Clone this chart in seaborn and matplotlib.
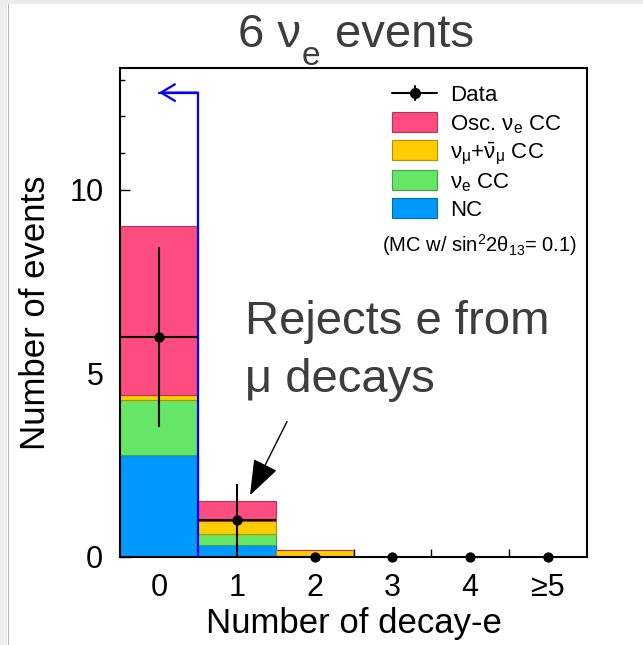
import numpy as np
import pandas as pd
import matplotlib
matplotlib.use("Agg")
import matplotlib.pyplot as plt
import matplotlib.colors as mcolors
from matplotlib.patches import Rectangle
from matplotlib.ticker import MultipleLocator, FixedLocator
import seaborn as sns

# Decay-electron multiplicity bins
n_decay = [0, 1, 2, 3, 4, 5]
tick_labels = ["0", "1", "2", "3", "4", "≥5"]

# Expected events per MC component (stacked)
nc_events = [2.78, 0.33, 0.01, 0.0, 0.0, 0.0]
nue_cc_events = [1.50, 0.30, 0.02, 0.0, 0.0, 0.0]
numu_cc_events = [0.12, 0.36, 0.16, 0.0, 0.0, 0.0]
osc_nue_events = [4.62, 0.54, 0.01, 0.0, 0.0, 0.0]

# Observed events
data_counts = [6, 1, 0, 0, 0, 0]

# Selection cut (keep events left of the line)
cut_edge = 0.5
cut_arrow_y = 12.65

components = ["Osc. ν$_\\mathrm{e}$ CC",
              "ν$_\\mathrm{\\mu}$+$\\bar{\\mathrm{\\nu}}_\\mathrm{\\mu}$ CC",
              "ν$_\\mathrm{e}$ CC",
              "NC"]
component_values = [osc_nue_events, numu_cc_events, nue_cc_events, nc_events]
component_colors = ["#FF4C80", "#FFCC00", "#66E666", "#0099FF"]

rows = []
for name, vals in zip(components, component_values):
    for b, v in zip(n_decay, vals):
        rows.append({"n_decay": b, "events": v, "component": name})
mc = pd.DataFrame(rows)

sns.set_theme(style="ticks")
plt.rcParams["font.family"] = ["Liberation Sans", "DejaVu Sans"]
plt.rcParams["mathtext.fontset"] = "custom"
plt.rcParams["mathtext.rm"] = "Liberation Sans"
plt.rcParams["mathtext.it"] = "Liberation Sans:italic"
plt.rcParams["mathtext.bf"] = "Liberation Sans:bold"

W, H = 643, 645
fig, ax = plt.subplots(figsize=(W / 100, H / 100), dpi=100)
fig.patch.set_facecolor("white")
L, R, B, T = 120, 587, 557, 68
fig.subplots_adjust(left=L / W, right=R / W, bottom=1 - B / H, top=1 - T / H)


def darker(c, f=0.7):
    r, g, b = mcolors.to_rgb(c)
    return (r * f, g * f, b * f)


sns.histplot(data=mc, x="n_decay", weights="events", hue="component",
             hue_order=components, palette=dict(zip(components, component_colors)),
             multiple="stack", discrete=True, shrink=1, alpha=1,
             linewidth=0.8, legend=False, ax=ax, zorder=1)
for p in ax.patches:
    p.set_edgecolor(darker(p.get_facecolor()))

# Cut line with arrow pointing towards the selected bin
blue = "#0000FF"
ax.plot([cut_edge, cut_edge, 0.0], [0, cut_arrow_y, cut_arrow_y],
        color=blue, lw=1.6, zorder=3, solid_joinstyle="miter")
ax.annotate("", xy=(0.0, cut_arrow_y), xytext=(cut_edge, cut_arrow_y),
            arrowprops=dict(arrowstyle="->,head_length=0.5,head_width=0.3",
                            mutation_scale=20, color=blue, lw=1.6,
                            shrinkA=0, shrinkB=0), zorder=3)

# Data with Poisson errors
counts = np.array(data_counts, dtype=float)
has = counts > 0
ax.errorbar(np.array(n_decay)[has], counts[has], yerr=np.sqrt(counts[has]),
            xerr=0.5, fmt="none", ecolor="black", elinewidth=1.5, capsize=0,
            zorder=4)
sns.scatterplot(x=n_decay, y=data_counts, color="black", s=55, linewidth=0,
                ax=ax, zorder=5, clip_on=False)

ax.set_xlim(-0.5, 5.5)
ax.set_ylim(0, 13.32)

# Axis styling
for s in ax.spines.values():
    s.set_visible(True)
    s.set_color("black")
    s.set_linewidth(1.5)
ax.set_xticks(n_decay, tick_labels)
ax.xaxis.set_minor_locator(FixedLocator([0.5, 1.5, 2.5, 3.5, 4.5]))
ax.tick_params(axis="x", which="major", length=0, pad=11.5, labelsize=22,
               labelcolor="black")
ax.tick_params(axis="x", which="minor", direction="in", length=6, width=1,
               color="black")
ax.yaxis.set_major_locator(FixedLocator([0, 5, 10]))
ax.yaxis.set_minor_locator(MultipleLocator(1))
ax.tick_params(axis="y", which="major", direction="in", length=7, width=1,
               pad=12, labelsize=22, color="black", labelcolor="black")
ax.tick_params(axis="y", which="minor", direction="in", length=3.6, width=1,
               color="black")
ax.tick_params(top=False, right=False, which="both")

ax.set_xlabel("Number of decay-e", fontsize=25, color="black")
ax.set_ylabel("Number of events", fontsize=25, color="black")
ax.xaxis.set_label_coords(0.5, -0.102)
ax.yaxis.set_label_coords(-0.146, 0.5)


def axx(px):
    return (px - L) / (R - L)


def axy(py):
    return (B - py) / (B - T)


# Legend
hx0, hx1, tx = 392, 437, 450
row_y = [93, 122, 150, 180, 208]
ax.plot([axx(hx0), axx(hx1)], [axy(row_y[0])] * 2, transform=ax.transAxes,
        color="black", lw=1.5, clip_on=False)
ax.plot([axx((hx0 + hx1) / 2)] * 2, [axy(row_y[0] - 7), axy(row_y[0] + 7)],
        transform=ax.transAxes, color="black", lw=1.5, clip_on=False)
ax.plot([axx((hx0 + hx1) / 2)], [axy(row_y[0])], "o", color="black", ms=7,
        transform=ax.transAxes, clip_on=False)
ax.text(axx(tx), axy(row_y[0] + 8), "Data", transform=ax.transAxes,
        fontsize=16, va="baseline", ha="left", color="black")
for yc, name, col in zip(row_y[1:], components, component_colors):
    ax.add_patch(Rectangle((axx(hx0), axy(yc + 10)), axx(hx1) - axx(hx0),
                           axy(yc - 10) - axy(yc + 10), transform=ax.transAxes,
                           facecolor=col, edgecolor=darker(col), lw=0.8,
                           clip_on=False))
    ax.text(axx(tx), axy(yc + 8), name, transform=ax.transAxes,
            fontsize=16, va="baseline", ha="left", color="black")
ax.text(axx(382), axy(252), "(MC w/ sin$^\\mathrm{2}$2θ$_\\mathrm{13}$= 0.1)",
        transform=ax.transAxes, fontsize=14.5, va="baseline", ha="left",
        color="black")

# Annotation for the decay-e bin
gray = "#3d3d3d"
ax.text(1.106, 4.50, "Rejects e from\nμ decays", fontsize=34, color=gray,
        va="baseline", ha="left", linespacing=1.42)
ax.annotate("", xy=(1.17, 1.68), xytext=(1.646, 3.69),
            arrowprops=dict(arrowstyle="-|>,head_length=1.5,head_width=0.55",
                            mutation_scale=15, color="black", lw=1.0,
                            shrinkA=0, shrinkB=0), zorder=6)

# Title: 6 nu_e events
fig.text(238 / W, 1 - 47 / H, "6 ν", fontsize=34, color=gray, ha="left",
         va="baseline")
fig.text(302 / W, 1 - 65 / H, "e", fontsize=24, color=gray, ha="left",
         va="baseline")
fig.text(335 / W, 1 - 47 / H, "events", fontsize=34, color=gray, ha="left",
         va="baseline")

# Page edge
fig.patches.append(Rectangle((0, 0), 7 / W, 1, transform=fig.transFigure,
                             facecolor="#eeeeee", edgecolor="none", zorder=-5))
fig.patches.append(Rectangle((0, 1 - 4 / H), 1, 4 / H, transform=fig.transFigure,
                             facecolor="#ececec", edgecolor="none", zorder=-5))
fig.lines.append(plt.Line2D([7.5 / W, 7.5 / W], [0, 1 - 4 / H],
                            transform=fig.transFigure, color="#b5b5b5", lw=0.8))

fig.savefig("out.png", dpi=100)
